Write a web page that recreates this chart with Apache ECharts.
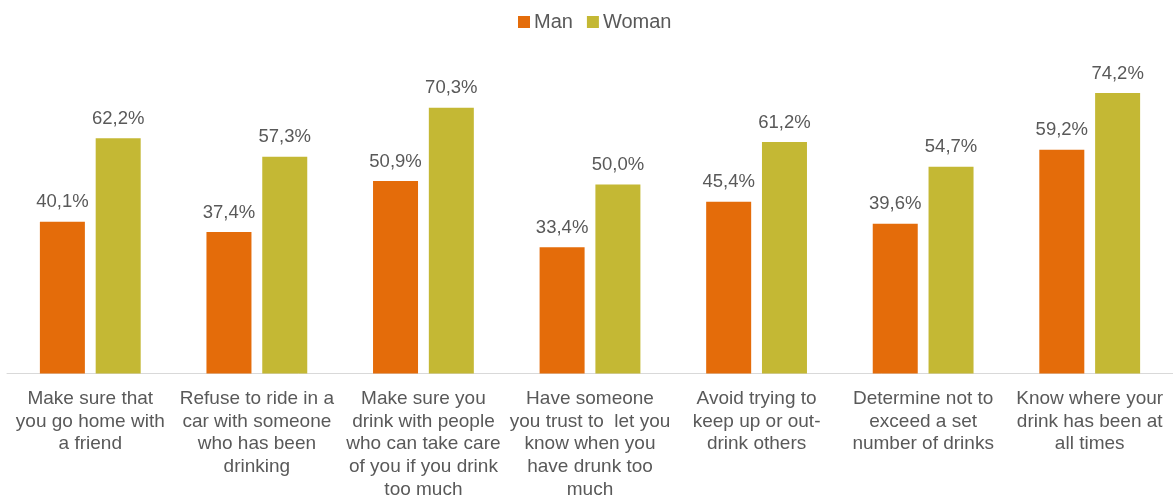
<!DOCTYPE html>
<html>
<head>
<meta charset="utf-8">
<script src="https://cdn.jsdelivr.net/npm/echarts@6/dist/echarts.min.js"></script>
<style>
  html, body { margin: 0; padding: 0; background: #fff; }
  #chart { width: 1173px; height: 501px; }
</style>
</head>
<body>
<div id="chart"></div>
<script>
// categories (line breaks as in the original)
const categories = [
  'Make sure that\nyou go home with\na friend',
  'Refuse to ride in a\ncar with someone\nwho has been\ndrinking',
  'Make sure you\ndrink with people\nwho can take care\nof you if you drink\ntoo much',
  'Have someone\nyou trust to  let you\nknow when you\nhave drunk too\nmuch',
  'Avoid trying to\nkeep up or out-\ndrink others',
  'Determine not to\nexceed a set\nnumber of drinks',
  'Know where your\ndrink has been at\nall times'
];
const manValues = [40.1, 37.4, 50.9, 33.4, 45.4, 39.6, 59.2];
const womanValues = [62.2, 57.3, 70.3, 50.0, 61.2, 54.7, 74.2];

const textColor = '#595959';
const font = '"Liberation Sans", Arial, sans-serif';

const chart = echarts.init(document.getElementById('chart'));

const labelOpt = {
  show: true,
  position: 'top',
  distance: 10,
  color: textColor,
  fontSize: 18.5,
  fontFamily: font,
  formatter: function (p) {
    return p.value.toFixed(1).replace('.', ',') + '%';
  }
};

const option = {
  animation: false,
  textStyle: { fontFamily: font },
  legend: {
    top: 7,
    left: 513,
    itemWidth: 12,
    itemHeight: 12,
    itemGap: 14,
    icon: 'rect',
    textStyle: { color: textColor, fontSize: 20, fontFamily: font, padding: [0, 0, 0, -1] },
    data: ['Man', 'Woman']
  },
  grid: {
    left: 7,
    right: 0,
    top: 71,
    bottom: 127,
    containLabel: false
  },
  xAxis: {
    type: 'category',
    data: categories,
    axisLine: { lineStyle: { color: '#d9d9d9', width: 1 } },
    axisTick: { show: false },
    axisLabel: {
      interval: 0,
      color: textColor,
      fontSize: 19,
      fontFamily: font,
      lineHeight: 22.7,
      margin: 14
    }
  },
  yAxis: {
    type: 'value',
    min: 0,
    max: 80,
    show: false,
    splitLine: { show: false }
  },
  series: [
    {
      name: 'Man',
      type: 'bar',
      data: manValues,
      barWidth: 45,
      barGap: '24%',
      itemStyle: { color: '#E46C0A' },
      label: labelOpt
    },
    {
      name: 'Woman',
      type: 'bar',
      data: womanValues,
      barWidth: 45,
      itemStyle: { color: '#C4B834' },
      label: labelOpt
    }
  ]
};

chart.setOption(option);
</script>
</body>
</html>
